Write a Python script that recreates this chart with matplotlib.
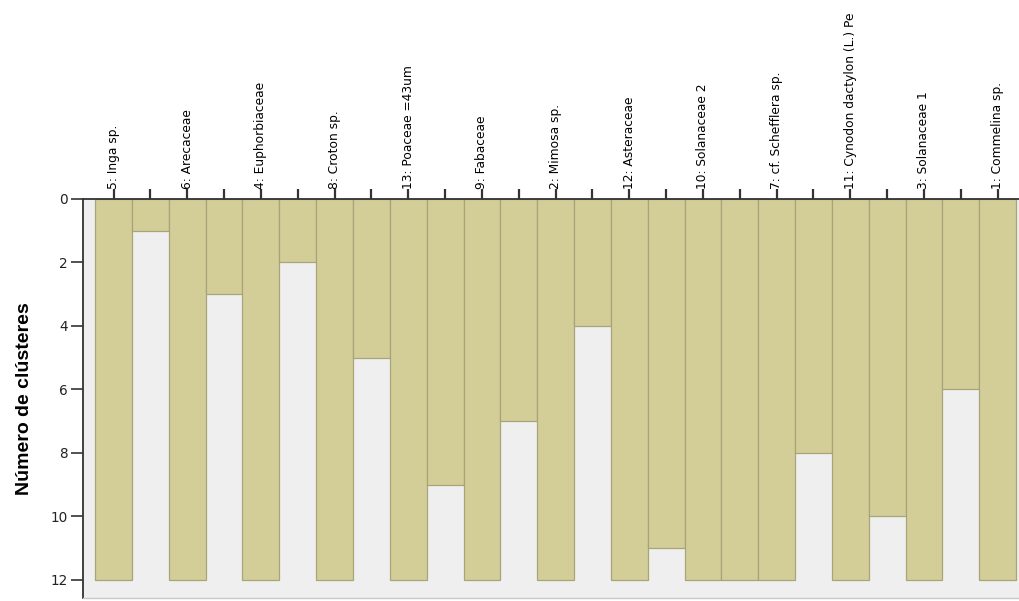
import matplotlib
matplotlib.use("Agg")
import matplotlib.pyplot as plt

# Cases in dendrogram order and the cluster count at which each neighbouring pair joins
cases = ["5: Inga sp.", "6: Arecaceae", "4: Euphorbiaceae", "8: Croton sp.",
         "13: Poaceae =43um", "9: Fabaceae", "2: Mimosa sp.", "12: Asteraceae",
         "10: Solanaceae 2", "7: cf. Schefflera sp.", "11: Cynodon dactylon (L.) Pe",
         "3: Solanaceae 1", "1: Commelina sp."]
joins = [1, 3, 2, 5, 9, 7, 4, 11, 12, 8, 10, 6]
max_clusters = 12
y_ticks = [0, 2, 4, 6, 8, 10, 12]

fill = "#D3CE98"
edge = "#A8A47A"
bg = "#EFEFEF"

W, H = 1019, 601
fig = plt.figure(figsize=(W / 100, H / 100), dpi=100)
ax = fig.add_axes([83 / W, 1 - 598 / H, (1019 - 83) / W, (598 - 199) / H])
ax.set_facecolor(bg)

# Interleave case columns (full height) with join columns
heights = []
for i, c in enumerate(cases):
    heights.append(max_clusters)
    if i < len(joins):
        heights.append(joins[i])
xs = list(range(len(heights)))
ax.bar(xs, heights, width=1.0, align="edge", bottom=0, color=fill,
       edgecolor=edge, linewidth=0.9)

ax.set_xlim(-0.33, 25.08)
ax.set_ylim(12.57, 0)

ax.xaxis.tick_top()
centers = [x + 0.5 for x in xs]
ax.set_xticks(centers)
ax.set_xticklabels([cases[i // 2] if i % 2 == 0 else "" for i in xs],
                   rotation=90, fontsize=8.8, family="DejaVu Sans")
ax.tick_params(axis="x", which="major", direction="out", length=7, width=1.6,
               pad=0, color="#333333")
for lbl in ax.get_xticklabels():
    lbl.set_rotation_mode("anchor")
    lbl.set_ha("left")
    lbl.set_va("center")

ax.set_yticks(y_ticks)
ax.set_yticklabels([str(v) for v in y_ticks], fontsize=9.8, family="DejaVu Sans",
                   color="#222222")
ax.tick_params(axis="y", direction="out", length=9, width=1.2, pad=2, color="#333333")

ax.spines["left"].set_color("#333333")
ax.spines["left"].set_linewidth(1.3)
ax.spines["top"].set_color("#333333")
ax.spines["top"].set_linewidth(1.3)
ax.spines["right"].set_visible(False)
ax.spines["bottom"].set_color("#C8C8C8")
ax.spines["bottom"].set_linewidth(1.0)

ax.set_ylabel("Número de clústeres", fontsize=14, fontweight="bold",
              family="Liberation Sans")
ax.yaxis.set_label_coords(-0.053, 0.5)

fig.savefig("out.png", dpi=100)
